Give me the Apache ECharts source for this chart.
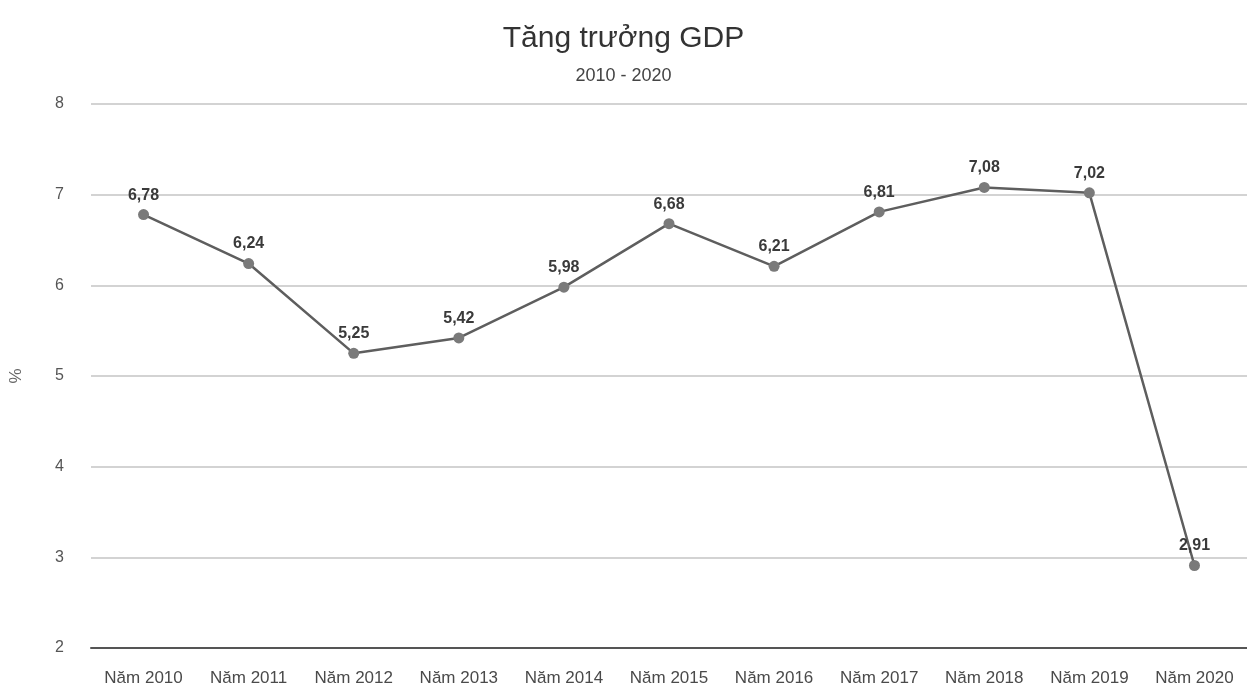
<!DOCTYPE html>
<html>
<head>
<meta charset="utf-8">
<script src="https://cdn.jsdelivr.net/npm/echarts@6/dist/echarts.min.js"></script>
<style>
  html, body { margin: 0; padding: 0; background: #fff; }
  #chart { width: 1247px; height: 687px; }
</style>
</head>
<body>
<div id="chart"></div>
<script>
// Dữ liệu tăng trưởng GDP
const years = ["Năm 2010", "Năm 2011", "Năm 2012", "Năm 2013", "Năm 2014", "Năm 2015",
  "Năm 2016", "Năm 2017", "Năm 2018", "Năm 2019", "Năm 2020"];
const gdpGrowth = [6.78, 6.24, 5.25, 5.42, 5.98, 6.68, 6.21, 6.81, 7.08, 7.02, 2.91];
const yTicks = { min: 2, max: 8, interval: 1 };

const chart = echarts.init(document.getElementById("chart"));

const option = {
  backgroundColor: "#fff",
  textStyle: { fontFamily: "Liberation Sans, Arial, sans-serif" },
  title: [
    {
      text: "Tăng trưởng GDP",
      left: "center",
      top: 19,
      textStyle: { fontSize: 30, fontWeight: "normal", color: "#333" },
    },
    {
      text: "2010 - 2020",
      left: "center",
      top: 62,
      textStyle: { fontSize: 18, fontWeight: "normal", color: "#444" },
    },
  ],
  grid: { left: 90, right: -3, top: 104, bottom: 39 },
  xAxis: {
    type: "category",
    data: years,
    boundaryGap: true,
    axisLine: { lineStyle: { color: "#555", width: 2 } },
    axisTick: { show: false },
    axisLabel: { color: "#4a4a4a", fontSize: 17, margin: 22 },
  },
  yAxis: {
    type: "value",
    min: yTicks.min,
    max: yTicks.max,
    interval: yTicks.interval,
    name: "%",
    nameLocation: "middle",
    nameGap: 66,
    nameRotate: 90,
    nameTextStyle: { color: "#666", fontSize: 17 },
    axisLine: { show: false },
    axisTick: { show: false },
    axisLabel: { color: "#555", fontSize: 16, margin: 27 },
    splitLine: { lineStyle: { color: "#c4c4c4", width: 1.5 } },
  },
  series: [
    {
      name: "Tăng trưởng GDP",
      type: "line",
      data: gdpGrowth,
      symbol: "circle",
      symbolSize: 11,
      lineStyle: { color: "#5e5e5e", width: 2.5 },
      itemStyle: { color: "#7a7a7a" },
      label: {
        show: true,
        position: "top",
        distance: 6,
        fontSize: 16,
        fontWeight: "bold",
        color: "#3a3a3a",
        formatter: (p) => p.value.toFixed(2).replace(".", ","),
      },
    },
  ],
};

chart.setOption(option);
</script>
</body>
</html>
